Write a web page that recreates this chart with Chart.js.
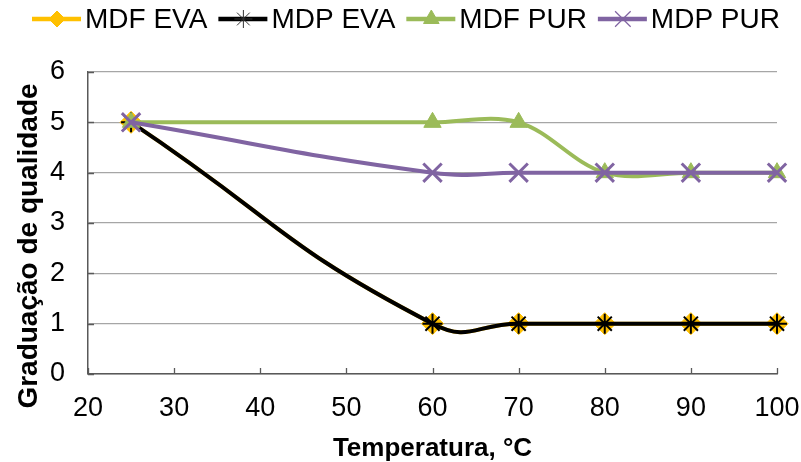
<!DOCTYPE html>
<html>
<head>
<meta charset="utf-8">
<script src="https://cdn.jsdelivr.net/npm/chart.js@4.4.1/dist/chart.umd.min.js"></script>
<style>
  html, body { margin: 0; padding: 0; background: #fff; }
  #wrap { width: 801px; height: 462px; }
</style>
</head>
<body>
<div id="wrap"><canvas id="chart" width="801" height="462"></canvas></div>
<script>
'use strict';

// ── DATA ──
const temps  = [25, 60, 70, 80, 90, 100];
const mdfEva = [5, 1, 1, 1, 1, 1];
const mdpEva = [5, 1, 1, 1, 1, 1];
const mdfPur = [5, 5, 5, 4, 4, 4];
const mdpPur = [5, 4, 4, 4, 4, 4];

const seriesNames = ['MDF EVA', 'MDP EVA', 'MDF PUR', 'MDP PUR'];
const xTicks = [20, 30, 40, 50, 60, 70, 80, 90, 100];
const yTicks = [0, 1, 2, 3, 4, 5, 6];

const xTitle = 'Temperatura, °C';
const yTitle = 'Graduação de qualidade';

// ── STYLE ──
const FONT = "'Liberation Sans', Arial, sans-serif";
const styles = [
  { color: '#FFC000', point: 'rectRot',  radius: 11, bw: 1, lw: 4, tension: 0.5 },
  { color: '#000000', point: 'star',     radius: 10, bw: 2, lw: 4, tension: 0.5 },
  { color: '#9BBB59', point: 'triangle', radius: 10, bw: 1, lw: 4, tension: 0.35 },
  { color: '#8064A2', point: 'crossRot', radius: 13, bw: 3, lw: 4, tension: 0.45 },
];

const toPts = arr => temps.map((t, i) => ({ x: t, y: arr[i] }));
const allSeries = [mdfEva, mdpEva, mdfPur, mdpPur];

const datasets = allSeries.map((arr, i) => ({
  label: seriesNames[i],
  data: toPts(arr),
  order: allSeries.length - 1 - i,
  showLine: true,
  borderColor: styles[i].color,
  borderWidth: styles[i].lw,
  backgroundColor: styles[i].color,
  pointStyle: styles[i].point,
  pointRadius: styles[i].radius,
  pointHoverRadius: styles[i].radius,
  pointBorderWidth: styles[i].bw,
  pointBorderColor: styles[i].color,
  pointBackgroundColor: styles[i].color,
  tension: styles[i].tension,
  clip: false,
}));

// ── PLUGIN: inward tick marks + y title ──
const innerTicks = {
  id: 'innerTicks',
  afterDatasetsDraw(chart) {
    const { ctx, chartArea: a, scales: { x, y } } = chart;
    ctx.save();
    ctx.strokeStyle = '#595959';
    ctx.lineWidth = 1.3;
    ctx.beginPath();
    xTicks.forEach(v => {
      const px = Math.round(x.getPixelForValue(v)) + 0.5;
      ctx.moveTo(px, a.bottom);
      ctx.lineTo(px, a.bottom - 6);
    });
    yTicks.forEach(v => {
      const py = Math.round(y.getPixelForValue(v)) + 0.5;
      ctx.moveTo(a.left, py);
      ctx.lineTo(a.left + 6, py);
    });
    ctx.stroke();

    // y title sits a bit lower than the plot centre
    ctx.translate(29, 246);
    ctx.rotate(-Math.PI / 2);
    ctx.font = 'bold 28px ' + FONT;
    ctx.fillStyle = '#000';
    ctx.textAlign = 'center';
    ctx.textBaseline = 'middle';
    ctx.fillText(yTitle, 0, 0);
    ctx.restore();
  }
};

// ── PLUGIN: legend line + marker ──
const lineLegend = {
  id: 'lineLegend',
  afterDraw(chart) {
    const ctx = chart.ctx;
    const cy = 19;
    let x = 32;
    ctx.save();
    ctx.font = '28px ' + FONT;
    ctx.textBaseline = 'middle';
    ctx.textAlign = 'left';
    seriesNames.forEach((name, i) => {
      const s = styles[i];
      ctx.strokeStyle = s.color;
      ctx.lineWidth = 4.5;
      ctx.beginPath();
      ctx.moveTo(x, cy);
      ctx.lineTo(x + 49, cy);
      ctx.stroke();
      ctx.fillStyle = s.color;
      ctx.strokeStyle = i === 1 ? '#333' : s.color;
      ctx.lineWidth = i === 3 ? 1.2 : 1;
      Chart.helpers.drawPoint(ctx, {
        pointStyle: s.point,
        radius: i === 0 ? 8 : (i === 3 ? 11 : 9),
        rotation: 0,
        borderWidth: ctx.lineWidth,
      }, x + 25, cy);
      x += 53;
      ctx.fillStyle = '#000';
      ctx.fillText(name, x, cy + 1);
      x += ctx.measureText(name).width + 11;
    });
    ctx.restore();
  }
};

// ── CHART ──
new Chart(document.getElementById('chart'), {
  type: 'scatter',
  data: { datasets },
  options: {
    responsive: false,
    animation: false,
    events: [],
    layout: { padding: { top: 72, right: 0, left: 0, bottom: 0 } },
    plugins: {
      legend: { display: false },
      tooltip: { enabled: false },
    },
    scales: {
      x: {
        type: 'linear',
        min: 20, max: 100,
        afterBuildTicks: s => { s.ticks = xTicks.map(v => ({ value: v })); },
        afterFit: s => { s.height = 88; s.paddingLeft = 0; s.paddingRight = 24; },
        grid: { display: false, drawTicks: false },
        border: { display: true, color: '#595959', width: 1.5 },
        ticks: {
          color: '#000',
          padding: 18,
          maxRotation: 0,
          autoSkip: false,
          font: { family: FONT, size: 27 },
        },
        title: {
          display: true,
          text: xTitle,
          color: '#000',
          padding: { top: 0, bottom: 0 },
          font: { family: FONT, size: 26, weight: 'bold', lineHeight: 1.0 },
        },
      },
      y: {
        min: 0, max: 6,
        afterBuildTicks: s => { s.ticks = yTicks.map(v => ({ value: v })); },
        afterFit: s => { s.width = 88; s.paddingTop = 0; s.paddingBottom = 0; },
        grid: { color: '#a6a6a6', lineWidth: 1.3, drawTicks: false },
        border: { display: true, color: '#595959', width: 1.5 },
        ticks: {
          color: '#000',
          padding: 23,
          font: { family: FONT, size: 27 },
        },
        title: { display: false },
      },
    },
  },
  plugins: [innerTicks, lineLegend],
});
</script>
</body>
</html>
